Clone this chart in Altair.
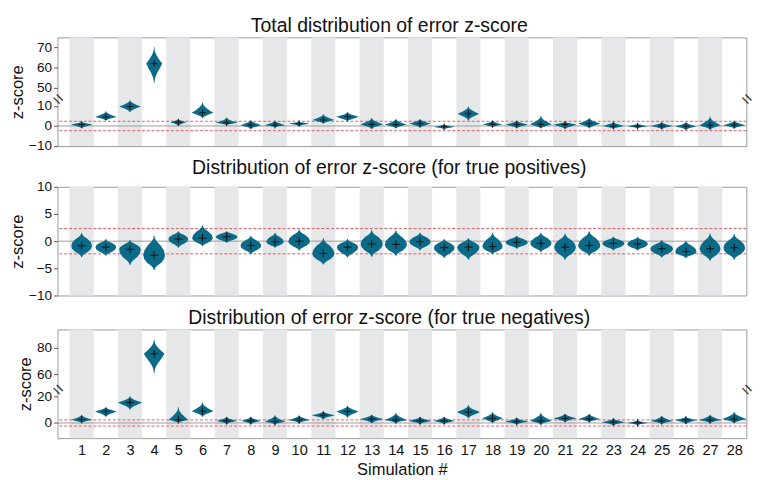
import altair as alt
import pandas as pd

SIMS = list(range(1, 29))

# ---------- Panel 1: total distribution (lower tail, widest point, upper tail, half-width) ----------
P1_LO = [-1.2, 2.7, 6.9, 52.3, 0.05, 3.9, 0.4, -1.5, -0.7, -0.1, 1.2, 2.2, -1.5, -1.2,
         -0.9, -1.6, 2.7, -0.7, -1.2, -1.2, -1.6, -1.2, -1.5, -1.2, -1.6, -2.0, -2.0, -1.2]
P1_MID = [0.7, 4.5, 9.7, 62.0, 1.9, 6.6, 1.6, 0.4, 0.4, 1.2, 3.0, 4.6, 0.8, 0.7,
          1.2, -0.4, 6.1, 0.8, 0.7, 0.8, 0.7, 1.2, 0.0, -0.1, 0.0, -0.1, 0.4, 0.4]
P1_HI = [2.2, 7.3, 12.8, 70.3, 3.5, 11.7, 4.2, 3.0, 2.7, 2.2, 5.8, 6.9, 4.0, 3.5,
         3.5, 0.8, 9.7, 2.7, 2.7, 5.0, 2.2, 4.0, 2.2, 1.2, 1.9, 1.9, 4.6, 2.7]
P1_W = [0.45, 0.45, 0.45, 0.33, 0.33, 0.45, 0.46, 0.43, 0.43, 0.43, 0.46, 0.46, 0.47, 0.45,
        0.45, 0.43, 0.44, 0.42, 0.46, 0.46, 0.48, 0.46, 0.43, 0.42, 0.46, 0.43, 0.43, 0.46]

# ---------- Panel 2: true positives ----------
P2_LO = [-2.96, -2.7, -4.4, -5.3, -1.2, -0.9, -0.3, -2.4, -1.2, -1.7, -4.3, -3.0, -2.85, -2.7,
         -1.7, -3.1, -3.4, -2.4, -1.4, -2.0, -3.4, -2.7, -1.7, -1.7, -3.0, -3.1, -3.6, -3.4]
P2_MID = [-0.85, -1.1, -1.5, -2.6, 0.4, 0.56, 0.8, -0.8, -0.1, 0.0, -2.26, -1.1, -0.5, -0.6,
          -0.1, -1.2, -1.1, -1.0, -0.2, -0.4, -1.1, -0.8, -0.4, -0.5, -1.4, -1.9, -1.4, -1.2]
P2_HI = [1.55, 0.4, 0.2, 1.0, 1.85, 2.9, 1.85, 1.0, 1.55, 2.15, 0.56, 0.4, 2.0, 2.0,
         1.55, 0.4, 0.56, 1.55, 1.0, 1.55, 1.4, 1.85, 0.8, 0.8, 0.2, 0.1, 1.4, 1.3]
P2_W = [0.43, 0.43, 0.45, 0.45, 0.41, 0.43, 0.45, 0.43, 0.36, 0.45, 0.46, 0.44, 0.46, 0.46,
        0.44, 0.43, 0.46, 0.42, 0.46, 0.44, 0.45, 0.46, 0.46, 0.43, 0.47, 0.44, 0.43, 0.45]

# ---------- Panel 3: true negatives ----------
P3_LO = [-0.1, 4.7, 10.2, 61.2, -0.1, 4.7, -0.9, -0.9, -1.3, -0.1, 3.0, 4.0, -0.1, -0.1,
         -0.9, -0.9, 3.5, -0.1, -1.3, -1.3, 0.6, 0.6, -1.8, -1.8, -0.9, -0.9, -0.1, -0.1]
P3_MID = [2.5, 8.8, 15.5, 75.5, 2.5, 9.0, 1.6, 1.6, 1.1, 2.3, 5.9, 8.8, 3.0, 2.3,
          1.6, 1.6, 8.3, 3.5, 1.1, 1.6, 3.5, 3.0, 0.6, 0.1, 1.6, 2.3, 2.3, 3.0]
P3_HI = [6.3, 11.9, 20.3, 86.2, 11.9, 15.5, 4.7, 4.7, 5.9, 5.9, 8.8, 13.1, 6.3, 7.6,
         4.7, 4.7, 13.5, 8.3, 4.0, 7.8, 7.1, 7.1, 3.5, 2.3, 5.4, 4.7, 6.3, 8.3]
P3_W = [0.43, 0.45, 0.5, 0.43, 0.4, 0.45, 0.41, 0.4, 0.43, 0.43, 0.48, 0.46, 0.48, 0.46,
        0.46, 0.43, 0.48, 0.43, 0.48, 0.45, 0.48, 0.45, 0.48, 0.43, 0.46, 0.46, 0.46, 0.5]

TITLES = ["Total distribution of error z-score",
          "Distribution of error z-score (for true positives)",
          "Distribution of error z-score (for true negatives)"]

THRESH = 2.33

# violin outline templates (relative position from lower tip -1 to upper tip +1, relative width)
SHAPE_S = [-1, -0.85, -0.7, -0.5, -0.25, 0, 0.25, 0.5, 0.7, 0.85, 1]
SHAPE_DIAMOND = [0.03, 0.07, 0.15, 0.36, 0.7, 1, 0.62, 0.3, 0.12, 0.05, 0.03]
SHAPE_ROUND = [0.03, 0.1, 0.3, 0.65, 0.92, 1, 0.9, 0.6, 0.25, 0.08, 0.03]

TEAL = "#0b6a88"
BAND = "#e6e7e8"
FONT = "Liberation Sans"


def broken(z, cut, shift):
    return z - shift if z > cut else z


def violin_df(lo, mid, hi, w, shape, cut, shift):
    rows = []
    for i, s in enumerate(SIMS):
        for k, (t, f) in enumerate(zip(SHAPE_S, shape)):
            if t < 0:
                z = mid[i] + t * (mid[i] - lo[i])
            else:
                z = mid[i] + t * (hi[i] - mid[i])
            rows.append({"sim": s, "k": k, "z": broken(z, cut, shift),
                         "left": s - w[i] * f, "right": s + w[i] * f})
    return pd.DataFrame(rows)


def cross_df(mid, cut, shift):
    return pd.DataFrame({"sim": SIMS, "z": [broken(m, cut, shift) for m in mid]})


band_df = pd.DataFrame({"x1": [s - 0.5 for s in SIMS if s % 2 == 1],
                        "x2": [s + 0.5 for s in SIMS if s % 2 == 1]})

W = 710
H = 112


def panel(idx, lo, mid, hi, w, shape, domain, ticks, cut, shift, label_cut, brk, last,
          cross_size):
    xscale = alt.Scale(domain=[0, 28.5], nice=False, zero=False)
    yscale = alt.Scale(domain=domain, nice=False, zero=False)
    if last:
        xaxis = alt.Axis(values=SIMS, format="d", grid=False, ticks=False, domain=False,
                         labelOverlap=False, labelFontSize=15, labelFont=FONT,
                         labelColor="#111", labelPadding=5,
                         title="Simulation #", titleFont=FONT, titleFontSize=17,
                         titleFontWeight="normal", titleColor="#111", titlePadding=5)
    else:
        xaxis = None
    if shift:
        lab = (f"datum.value > {label_cut} ? format(datum.value + {shift}, 'd') "
               f": format(datum.value, 'd')")
    else:
        lab = "format(datum.value, 'd')"
    yaxis = alt.Axis(values=ticks, labelExpr=lab, labelOverlap=False, grid=False, domain=False,
                     tickSize=4, tickColor="#555", labelFontSize=14, labelFont=FONT,
                     labelColor="#111", labelPadding=2, title="z-score", titleFont=FONT,
                     titleFontSize=17, titleFontWeight="normal", titleColor="#111",
                     titlePadding=2)

    def X(field, **kw):
        return alt.X(field, scale=xscale, axis=xaxis, title="Simulation #" if last else None, **kw)

    def Y(field):
        return alt.Y(field, scale=yscale, axis=yaxis, title="z-score")

    bands = alt.Chart(band_df).mark_rect(color=BAND).encode(x=X("x1:Q"), x2="x2:Q")
    zero = alt.Chart(pd.DataFrame({"y": [0.0]})).mark_rule(color="#9a9a9a", strokeWidth=1).encode(
        y=Y("y:Q"))
    reds = alt.Chart(pd.DataFrame({"y": [-THRESH, THRESH]})).mark_rule(
        color="#e2474f", strokeDash=[3, 2], strokeWidth=0.9).encode(y=Y("y:Q"))
    vio = alt.Chart(violin_df(lo, mid, hi, w, shape, cut, shift)).mark_area(
        orient="horizontal", color=TEAL, clip=True).encode(
        y=Y("z:Q"), x=X("left:Q", stack=None), x2="right:Q", detail="sim:N")
    cross = alt.Chart(cross_df(mid, cut, shift)).mark_point(
        shape="M-1,0H1M0,-1V1", size=cross_size, color="#111", strokeWidth=1, filled=False,
        opacity=1).encode(x=X("sim:Q"), y=Y("z:Q"))
    layers = [bands, zero, reds, vio, cross]
    if brk is not None:
        bdf = pd.DataFrame({"x": [0.0, 28.5], "y": [brk, brk]})
        marks = alt.Chart(bdf).mark_text(text="=", angle=45, fontSize=18, font=FONT,
                                         color="#333", clip=False).encode(
            x=X("x:Q"), y=Y("y:Q"))
        layers.append(marks)
    return alt.layer(*layers).properties(
        width=W, height=H,
        title=alt.TitleParams(TITLES[idx], fontSize=20, font=FONT, fontWeight="normal",
                              anchor="middle", offset=2, dx=-13, color="#111"))


p1 = panel(0, P1_LO, P1_MID, P1_HI, P1_W, SHAPE_DIAMOND, [-10, 44], [-10, 0, 10, 19, 29, 39],
           30, 31, 15, 13.1, False, 45)
p2 = panel(1, P2_LO, P2_MID, P2_HI, P2_W, SHAPE_ROUND, [-10, 10], [-10, -5, 0, 5, 10],
           100, 0, 100, None, False, 70)
p3 = panel(2, P3_LO, P3_MID, P3_HI, P3_W, SHAPE_DIAMOND, [-11.5, 71], [0, 20, 37, 57],
           40, 23, 28, 25, True, 60)

chart = alt.vconcat(p1, p2, p3, spacing=4).properties(
    padding={"left": 0, "top": 0, "right": 0, "bottom": 0}
).configure_view(stroke="#999", strokeWidth=1).configure_axis(labelOverlap=False)

chart.save("out.html", embed_options={"renderer": "svg", "actions": False})
